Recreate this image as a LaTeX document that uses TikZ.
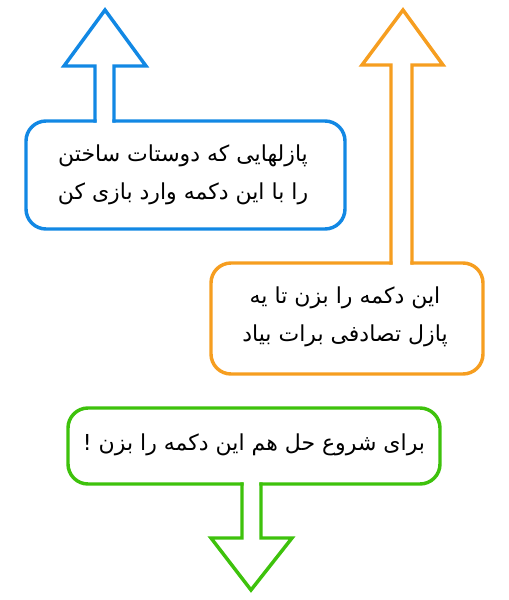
\documentclass[tikz,border=0pt]{standalone}
\usepackage{fontspec}
\newfontfamily\farsi[Script=Arabic]{DejaVu Sans}
\TeXXeTstate=1
\definecolor{hintblue}{RGB}{18,136,228}
\definecolor{hintorange}{RGB}{246,158,32}
\definecolor{hintgreen}{RGB}{62,194,12}
\tikzset{
  hint/.style={line width=2.6pt, line cap=rect, line join=miter},
  hintbox/.style={hint, rounded corners=15pt},
  hinttext/.style={font=\farsi\fontsize{16.5}{28.5}\selectfont, align=center}
}
\begin{document}
\begin{tikzpicture}[x=0.75pt, y=-0.75pt]
\useasboundingbox (0,0) rectangle (509,600);
% blue: friends' puzzles
\draw[hint, hintblue] (95,121) -- (95,66) -- (64,66) -- (105,10) -- (146,66) -- (114,66) -- (114,121); % arrow up
\draw[hintbox, hintblue] (114,121) -- (345,121) -- (345,229) -- (26,229) -- (26,121) -- (95,121);
\node[hinttext] (friends) at (183,175) {\beginR پازلهایی که دوستات ساختن\endR\\\beginR را با این دکمه وارد بازی کن\endR};
% orange: random puzzle
\draw[hint, hintorange] (391,263) -- (391,65) -- (362,65) -- (403,10) -- (443,65) -- (412,65) -- (412,263); % arrow up
\draw[hintbox, hintorange] (412,263) -- (483,263) -- (483,374) -- (211,374) -- (211,263) -- (391,263);
\node[hinttext] (random) at (345,317) {\beginR این دکمه را بزن تا یه\endR\\\beginR پازل تصادفی برات بیاد\endR};
% green: start solving
\draw[hint, hintgreen] (242,484) -- (242,538) -- (211,538) -- (251,590) -- (292,538) -- (261,538) -- (261,484); % arrow down
\draw[hintbox, hintgreen] (261,484) -- (440,484) -- (440,408) -- (68,408) -- (68,484) -- (242,484);
\node[hinttext] (start) at (254,445) {\beginR برای شروع حل هم این دکمه را بزن !\endR};
\end{tikzpicture}
\end{document}
